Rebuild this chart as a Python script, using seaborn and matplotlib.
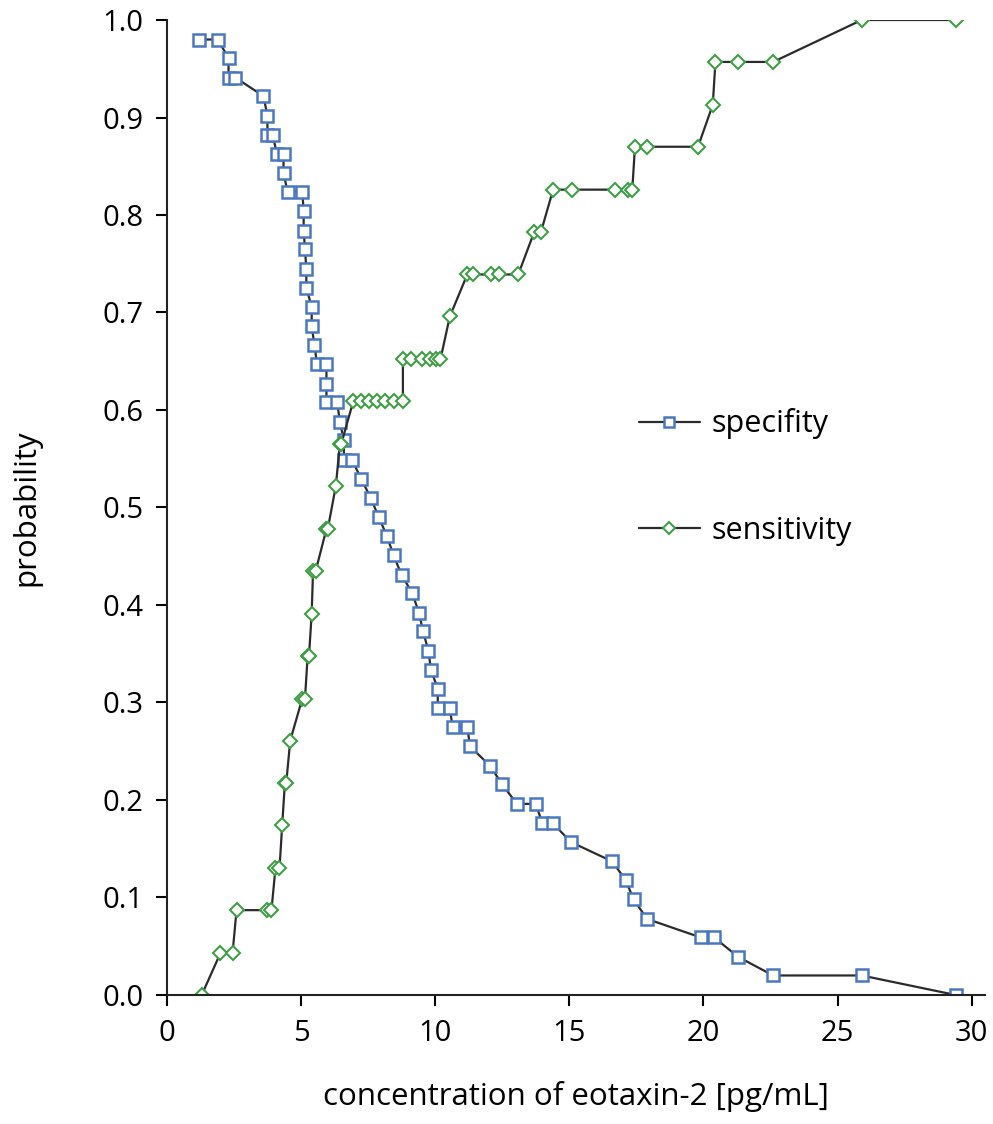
import matplotlib
matplotlib.use("Agg")
import matplotlib.pyplot as plt
import seaborn as sns
import pandas as pd

# specifity curve (x = concentration, y = probability)
spec_x = [1.2, 1.9, 2.3, 2.3, 2.55, 3.6, 3.75, 3.75, 3.95, 4.1, 4.35, 4.35, 4.5,
          5.05, 5.1, 5.1, 5.15, 5.2, 5.2, 5.4, 5.4, 5.5, 5.6, 5.95, 5.95, 5.95,
          6.35, 6.45, 6.6, 6.6, 6.9, 7.25, 7.6, 7.9, 8.2, 8.45, 8.75, 9.15, 9.4,
          9.55, 9.75, 9.85, 10.1, 10.1, 10.55, 10.65, 11.2, 11.3, 12.05, 12.5,
          13.05, 13.75, 14.0, 14.4, 15.05, 16.6, 17.1, 17.4, 17.9, 19.9, 20.4,
          21.3, 22.6, 25.9, 29.4]
spec_y = [0.980, 0.980, 0.961, 0.941, 0.941, 0.922, 0.902, 0.882, 0.882, 0.863,
          0.863, 0.843, 0.824, 0.824, 0.804, 0.784, 0.765, 0.745, 0.725, 0.706,
          0.686, 0.667, 0.647, 0.647, 0.627, 0.608, 0.608, 0.588, 0.569, 0.549,
          0.549, 0.529, 0.510, 0.490, 0.471, 0.451, 0.431, 0.412, 0.392, 0.373,
          0.353, 0.333, 0.314, 0.294, 0.294, 0.275, 0.275, 0.255, 0.235, 0.216,
          0.196, 0.196, 0.176, 0.176, 0.157, 0.137, 0.118, 0.098, 0.078, 0.059,
          0.059, 0.039, 0.020, 0.020, 0.0]

# sensitivity curve
sens_x = [1.3, 2.0, 2.45, 2.6, 3.75, 3.9, 4.05, 4.2, 4.3, 4.4, 4.45, 4.6, 5.05,
          5.15, 5.25, 5.3, 5.4, 5.45, 5.55, 5.95, 6.0, 6.3, 6.45, 6.5, 6.95,
          7.25, 7.55, 7.85, 8.15, 8.45, 8.8, 8.8, 9.1, 9.5, 9.8, 10.05, 10.2,
          10.55, 11.2, 11.4, 12.1, 12.4, 13.1, 13.7, 13.95, 14.4, 15.1, 16.7,
          17.2, 17.35, 17.45, 17.9, 19.8, 20.35, 20.45, 21.3, 22.6, 25.9, 29.4]
sens_y = [0.0, 0.043, 0.043, 0.087, 0.087, 0.087, 0.130, 0.130, 0.174, 0.217,
          0.217, 0.261, 0.304, 0.304, 0.348, 0.348, 0.391, 0.435, 0.435, 0.478,
          0.478, 0.522, 0.565, 0.565, 0.609, 0.609, 0.609, 0.609, 0.609, 0.609,
          0.609, 0.652, 0.652, 0.652, 0.652, 0.652, 0.652, 0.696, 0.739, 0.739,
          0.739, 0.739, 0.739, 0.783, 0.783, 0.826, 0.826, 0.826, 0.826, 0.826,
          0.870, 0.870, 0.870, 0.913, 0.957, 0.957, 0.957, 1.0, 1.0]

x_ticks = [0, 5, 10, 15, 20, 25, 30]
y_ticks = [0.0, 0.1, 0.2, 0.3, 0.4, 0.5, 0.6, 0.7, 0.8, 0.9, 1.0]

sns.set_style("ticks")
plt.rcParams["font.family"] = ["Open Sans", "DejaVu Sans"]
plt.rcParams["text.color"] = "black"
plt.rcParams["axes.labelcolor"] = "black"
plt.rcParams["xtick.color"] = "black"
plt.rcParams["ytick.color"] = "black"

fig = plt.figure(figsize=(9.93, 11.24), dpi=100)
ax = fig.add_axes([0.168, 0.1148, 0.824, 0.8674])

spec_df = pd.DataFrame({"x": spec_x, "y": spec_y})
sens_df = pd.DataFrame({"x": sens_x, "y": sens_y})

sns.lineplot(data=spec_df, x="x", y="y", ax=ax, sort=False, estimator=None,
             color="#2b2b2b", linewidth=1.6, marker="s", markersize=8.5,
             markerfacecolor="white", markeredgecolor="#4a78c0",
             markeredgewidth=1.8, label="specifity")
sns.lineplot(data=sens_df, x="x", y="y", ax=ax, sort=False, estimator=None,
             color="#2b2b2b", linewidth=1.6, marker="D", markersize=7.5,
             markerfacecolor="white", markeredgecolor="#3f9e45",
             markeredgewidth=1.5, label="sensitivity")

ax.set_xlim(0, 30.5)
ax.set_ylim(0, 1.0)
ax.set_xticks(x_ticks)
ax.set_yticks(y_ticks)
ax.set_yticklabels([f"{v:.1f}" for v in y_ticks])
ax.tick_params(axis="both", labelsize=21, length=8, width=1.5, direction="out",
               pad=9)
for s in ["left", "bottom"]:
    ax.spines[s].set_linewidth(1.5)
    ax.spines[s].set_color("#222222")
sns.despine(ax=ax)

ax.set_xlabel("concentration of eotaxin-2 [pg/mL]", fontsize=22.5, labelpad=24)
ax.set_ylabel("probability", fontsize=22.5, labelpad=44)

ax.legend(loc="upper left", bbox_to_anchor=(0.543, 0.63), frameon=False,
          fontsize=22, handlelength=2.0, labelspacing=2.5, handletextpad=0.4,
          markerscale=0.8)

fig.savefig("out.png", dpi=100)
